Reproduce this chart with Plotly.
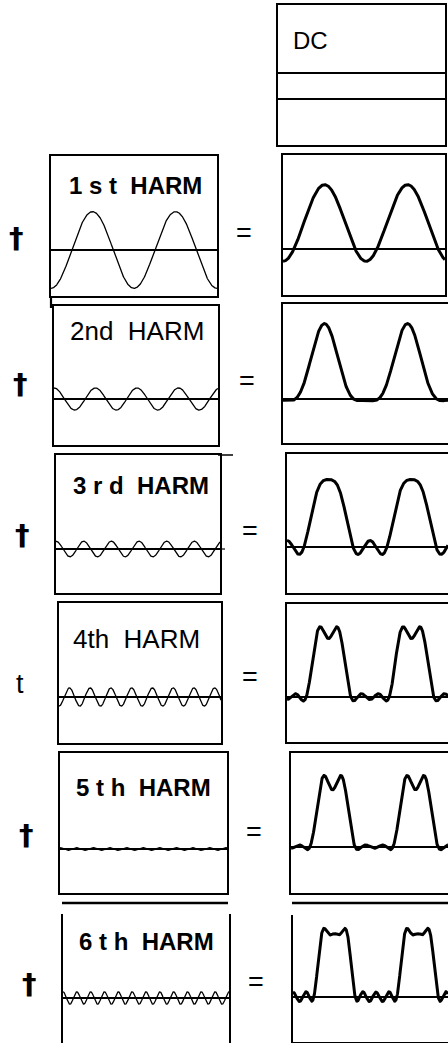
import numpy as np
import plotly.graph_objects as go

# ---------------- data ----------------
harmonic_labels = ["<b>1 s t\u00a0\u00a0HARM</b>", "2nd\u00a0\u00a0HARM", "<b>3 r d\u00a0\u00a0HARM</b>",
                   "4th\u00a0\u00a0HARM", "<b>5 t h\u00a0\u00a0HARM</b>", "<b>6 t h\u00a0\u00a0HARM</b>"]
harmonic_numbers = [1, 2, 3, 4, 5, 6]
dc_level = 0.40
harmonic_amplitudes = [0.59, 0.17, -0.12, -0.14, -0.02, 0.095]   # cosine amplitudes about the pulse centre
operator_signs = ["\u2020", "\u2020", "\u2020", "t", "\u2020", "\u2020"]
dc_label = "DC"

# ---------------- layout geometry (pixels) ----------------
W, H = 448, 1043
PX_PER_UNIT = 65.0     # vertical scale
PX_PER_PERIOD = 83.0   # fundamental period width

# (x0, x1, y0, y1, zero_y, x_mirror, x_showline, y_mirror)
left_panels = [
    (51, 217, 156, 296, 250, True, True, True),
    (54, 218, 306, 445, 399, True, True, True),
    (56, 220, 455, 593, 549, True, True, True),
    (59, 221, 603, 743, 697, True, True, True),
    (60, 227, 753, 893, 849, True, True, True),
    (63, 229, 914, 1043, 998, False, False, True),
]
right_panels = [
    (283, 445, 155, 295, 249, True, True, True),
    (283, 448, 304, 443, 399, True, True, False),
    (287, 448, 454, 593, 547, True, True, False),
    (287, 448, 604, 742, 697, True, True, False),
    (291, 448, 753, 893, 847, True, True, False),
    (293, 448, 915, 1042, 997, False, True, False),
]
dc_panel = (278, 445, 5, 145, 99, True, True, True)

label_pos = [(67, 185), (68, 331), (71, 486), (71, 639), (74, 787), (77, 941)]
label_size = [24, 26, 24, 26, 24, 24]
plus_pos = [(16, 238), (20, 384), (22, 535), (20, 684), (26, 835), (29, 984)]
eq_pos = [(244, 233), (247, 381), (250, 531), (250, 677), (254, 832), (256, 982)]


def px(x):
    return x / W


def py(y):
    return 1 - y / H


fig = go.Figure()
layout = {}
axis_count = [0]


def add_panel(spec):
    x0, x1, y0, y1, zy, xmir, xshow, ymir = spec
    axis_count[0] += 1
    i = axis_count[0]
    sfx = "" if i == 1 else str(i)
    xr = [0, (x1 - x0) / PX_PER_PERIOD]
    yr = [-(y1 - zy) / PX_PER_UNIT, (zy - y0) / PX_PER_UNIT]
    layout["xaxis" + sfx] = dict(domain=[px(x0), px(x1)], range=xr, anchor="y" + sfx,
                                 showgrid=False, zeroline=False, showticklabels=False, ticks="",
                                 showline=xshow, mirror=xmir, linecolor="black", linewidth=1.7,
                                 fixedrange=True)
    layout["yaxis" + sfx] = dict(domain=[py(y1), py(y0)], range=yr, anchor="x" + sfx,
                                 showgrid=False, zeroline=True, zerolinecolor="black", zerolinewidth=1.2,
                                 showticklabels=False, ticks="",
                                 showline=True, mirror=ymir, linecolor="black", linewidth=1.7,
                                 fixedrange=True)
    return "x" + sfx, "y" + sfx, xr


def waveform(t, n_max, include_dc):
    y = np.full_like(t, dc_level if include_dc else 0.0)
    for k, a in zip(harmonic_numbers[:n_max], harmonic_amplitudes[:n_max]):
        y = y + a * np.cos(2 * np.pi * k * (t - 0.5))
    return y


# DC panel
xa, ya, xr = add_panel(dc_panel)
t = np.linspace(xr[0], xr[1], 400)
fig.add_trace(go.Scatter(x=t, y=np.full_like(t, dc_level), mode="lines",
                         line=dict(color="black", width=1.9), xaxis=xa, yaxis=ya,
                         hoverinfo="skip", showlegend=False))

annotations = [dict(text=dc_label, x=px(291), y=py(40), xref="paper", yref="paper",
                    xanchor="left", yanchor="middle", showarrow=False,
                    font=dict(family="Liberation Sans", size=24, color="black"))]

for n in range(1, 7):
    # single harmonic panel
    xa, ya, xr = add_panel(left_panels[n - 1])
    t = np.linspace(xr[0], xr[1], 800)
    a = harmonic_amplitudes[n - 1]
    k = harmonic_numbers[n - 1]
    fig.add_trace(go.Scatter(x=t, y=a * np.cos(2 * np.pi * k * (t - 0.5)), mode="lines",
                             line=dict(color="black", width=1.3), xaxis=xa, yaxis=ya,
                             hoverinfo="skip", showlegend=False))
    # running sum panel
    xa, ya, xr = add_panel(right_panels[n - 1])
    t = np.linspace(xr[0], xr[1], 800)
    fig.add_trace(go.Scatter(x=t, y=waveform(t, n, True), mode="lines",
                             line=dict(color="black", width=3.0), xaxis=xa, yaxis=ya,
                             hoverinfo="skip", showlegend=False))
    lx, ly = label_pos[n - 1]
    annotations.append(dict(text=harmonic_labels[n - 1], x=px(lx), y=py(ly), xref="paper", yref="paper",
                            xanchor="left", yanchor="middle", showarrow=False,
                            font=dict(family="Liberation Sans", size=label_size[n - 1], color="black")))
    sx, sy = plus_pos[n - 1]
    sign = operator_signs[n - 1]
    if sign == "t":
        sign_text = sign
        sign_font = dict(family="Liberation Sans", size=27, color="black")
    else:
        sign_text = "<b>" + sign + "</b>"
        sign_font = dict(family="DejaVu Sans", size=29, color="black")
    annotations.append(dict(text=sign_text, x=px(sx), y=py(sy),
                            xref="paper", yref="paper",
                            xanchor="center", yanchor="middle", showarrow=False,
                            font=sign_font))
    ex, ey = eq_pos[n - 1]
    annotations.append(dict(text="=", x=px(ex), y=py(ey), xref="paper", yref="paper",
                            xanchor="center", yanchor="middle", showarrow=False,
                            font=dict(family="Liberation Sans", size=27, color="black")))

line_style = dict(color="black", width=2.2)
shapes = [
    # separate rule above the last row
    dict(type="line", xref="paper", yref="paper", x0=px(62), x1=px(228), y0=py(903), y1=py(903),
         line=dict(color="black", width=2.4)),
    dict(type="line", xref="paper", yref="paper", x0=px(292), x1=px(448), y0=py(903), y1=py(903),
         line=dict(color="black", width=2.4)),
    # small paste-up stubs of the original artwork
    dict(type="line", xref="paper", yref="paper", x0=px(51), x1=px(51), y0=py(296), y1=py(308),
         line=line_style),
    dict(type="line", xref="paper", yref="paper", x0=px(218), x1=px(233), y0=py(455), y1=py(455),
         line=dict(color="black", width=1.5)),
    dict(type="line", xref="paper", yref="paper", x0=px(220), x1=px(225), y0=py(549), y1=py(549),
         line=dict(color="black", width=1.2)),
]

fig.update_layout(width=W, height=H, margin=dict(l=0, r=0, t=0, b=0),
                  paper_bgcolor="white", plot_bgcolor="white",
                  annotations=annotations, shapes=shapes, **layout)

fig.write_html("out.html", config={"displayModeBar": False, "staticPlot": True},
               post_script="document.body.style.margin='0';document.body.style.overflow='hidden';")
